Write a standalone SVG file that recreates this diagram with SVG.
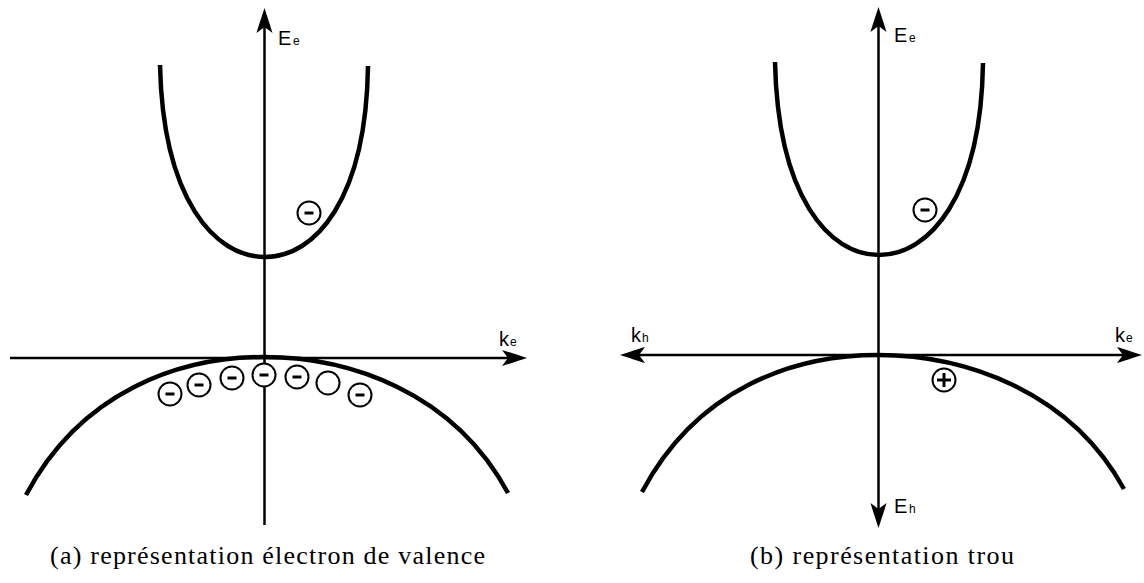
<svg xmlns="http://www.w3.org/2000/svg" width="1144" height="583" viewBox="0 0 1144 583">
<style>
.axis{stroke:#000;stroke-width:2.5;fill:none}
.band{stroke:#000;stroke-width:4.5;fill:none;stroke-linecap:butt}
.part{stroke:#000;stroke-width:2;fill:#fff}
.sign{stroke:#000;stroke-width:3;fill:none}
.lbl{font-family:"Liberation Sans",Arial,sans-serif;font-size:20px;fill:#000}
.sub{font-size:12px}
.cap{font-family:"Liberation Serif","Times New Roman",serif;font-size:26px;fill:#000}
</style>
<defs>
<marker id="arr" markerUnits="userSpaceOnUse" viewBox="-26 -10 30 20" refX="-18" refY="0" markerWidth="30" markerHeight="20" orient="auto-start-reverse">
<path d="M0,0 C-8,-2.5 -18,-6 -25,-8 L-19,0 L-25,8 C-18,6 -8,2.5 0,0 Z" fill="#000"/>
</marker>
<g id="minus"><circle class="part" cx="0" cy="0" r="11.5"/><line class="sign" x1="-4.5" y1="0" x2="4.5" y2="0"/></g>
</defs>
<g id="connectors">
<line class="axis" x1="264.5" y1="525" x2="264.5" y2="26" marker-end="url(#arr)"/>
<line class="axis" x1="10" y1="358" x2="509" y2="358" marker-end="url(#arr)"/>
<line class="axis" x1="878.5" y1="25" x2="878.5" y2="510" marker-start="url(#arr)" marker-end="url(#arr)"/>
<line class="axis" x1="638" y1="355" x2="1124" y2="355" marker-start="url(#arr)" marker-end="url(#arr)"/>
</g>
<g id="bands-a">
<path class="band" d="M160,65 C163,200 215,257 265,257 C315,257 366,200 368,66"/>
<path class="band" d="M26,495 C81,391 180,357 264,357 C348,357 453,391 508,493"/>
</g>
<g id="bands-b">
<path class="band" d="M775,62 C778,197 829,255 879,255 C929,255 981,197 983,63"/>
<path class="band" d="M642,492 C697,388 794,355 878,355 C962,355 1069,389 1124,489"/>
</g>
<g id="particles-a">
<use href="#minus" x="309" y="213"/>
<use href="#minus" x="170" y="394"/>
<use href="#minus" x="199" y="385"/>
<use href="#minus" x="232" y="378"/>
<use href="#minus" x="264" y="375"/>
<use href="#minus" x="297" y="377"/>
<circle class="part" cx="328" cy="383" r="11.5"/>
<use href="#minus" x="360" y="395"/>
</g>
<g id="particles-b">
<use href="#minus" x="925" y="210"/>
<g id="plus"><circle class="part" cx="944" cy="380" r="11.5"/><path class="sign" d="M937,380 H951 M944,373 V387"/></g>
</g>
<g id="labels">
<text class="lbl" x="278" y="45">E<tspan class="sub" x="293">e</tspan></text>
<text class="lbl" x="499" y="346">k<tspan class="sub" x="510">e</tspan></text>
<text class="lbl" x="894" y="42">E<tspan class="sub" x="909">e</tspan></text>
<text class="lbl" x="894" y="513">E<tspan class="sub" x="909">h</tspan></text>
<text class="lbl" x="631" y="342">k<tspan class="sub" x="642">h</tspan></text>
<text class="lbl" x="1115" y="342">k<tspan class="sub" x="1126">e</tspan></text>
<text class="cap" x="50" y="564" textLength="435" lengthAdjust="spacing">(a) représentation électron de valence</text>
<text class="cap" x="750" y="564" textLength="264" lengthAdjust="spacing">(b) représentation trou</text>
</g>
</svg>
